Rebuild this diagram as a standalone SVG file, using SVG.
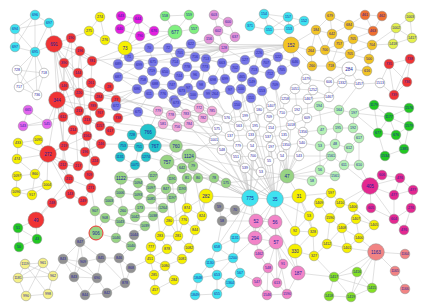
<svg xmlns="http://www.w3.org/2000/svg" width="423" height="308" viewBox="0 0 423 308">
<style>
.e path{stroke:#c2c2c2;stroke-width:.5;fill:none}
circle{stroke:#8c8c8c;stroke-width:.5}
text{font-family:"Liberation Sans",Arial,sans-serif;font-size:3.6px;fill:#22229a;text-anchor:middle;dominant-baseline:central}
.big text{font-size:4.6px}
.cy{fill:#3ee2f0}.rd{fill:#f03434}.wh{fill:#fff}.yl{fill:#f6f000}.gd{fill:#f2c424}.or{fill:#f07030}.lm{fill:#e4f04c}.mg{fill:#e420e0}.vi{fill:#e466ee}.lg{fill:#80f080}.pk{fill:#e294d8}.bl{fill:#7676e8}.tl{fill:#22c4cc}.p2{fill:#f2aad8}.gm{fill:#98d484}.dg{fill:#22c822}.pg{fill:#b4f0b4}.hp{fill:#e42890}.gr{fill:#929292}.py{fill:#f4f088}.kp{fill:#f284c8}.sa{fill:#f28484}.li{fill:#84e024}
.rs{stroke:#f03434;stroke-width:1}
</style>
<rect width="423" height="308" fill="#fff"/>
<g id="connectors" class="e">
<path d="M35 15L49 23"/><path d="M35 15L15 29"/><path d="M35 15L15 47"/><path d="M35 15L35 52"/><path d="M49 23L15 29"/><path d="M49 23L35 52"/><path d="M15 29L15 47"/><path d="M15 29L35 52"/><path d="M15 47L35 52"/><path d="M49 23L54 44"/><path d="M35 52L54 44"/><path d="M35 52L17 70"/><path d="M35 52L44 73"/><path d="M35 52L19 87"/><path d="M35 52L37 95"/>
<path d="M17 70L44 73"/><path d="M17 70L19 87"/><path d="M17 70L37 95"/><path d="M44 73L19 87"/><path d="M44 73L37 95"/><path d="M19 87L37 95"/>
<path d="M54 44L71 38"/><path d="M54 44L80 51"/><path d="M54 44L64 63"/><path d="M54 44L92 61"/><path d="M54 44L78 73"/><path d="M54 44L64 86"/><path d="M54 44L57 100"/><path d="M54 44L79 93"/><path d="M54 44L87 120"/><path d="M54 44L63 117"/>
<path d="M71 38L80 51"/><path d="M71 38L64 63"/><path d="M80 51L64 63"/><path d="M80 51L92 61"/><path d="M80 51L78 73"/><path d="M64 63L78 73"/><path d="M64 63L64 86"/><path d="M92 61L78 73"/><path d="M92 61L91 83"/><path d="M78 73L64 86"/><path d="M78 73L79 93"/><path d="M78 73L91 83"/><path d="M64 86L57 100"/><path d="M64 86L79 93"/><path d="M79 93L91 83"/><path d="M79 93L99 97"/><path d="M91 83L99 97"/><path d="M57 100L79 93"/><path d="M57 100L63 117"/><path d="M57 100L79 111"/><path d="M57 100L73 130"/><path d="M57 100L64 146"/><path d="M57 100L48 154"/><path d="M63 117L79 111"/><path d="M63 117L73 130"/><path d="M79 111L93 106"/><path d="M79 111L87 120"/><path d="M93 106L100 113"/><path d="M87 120L100 126"/><path d="M73 130L87 136"/><path d="M87 136L101 144"/><path d="M64 146L85 152"/><path d="M64 146L48 154"/><path d="M85 152L95 161"/><path d="M63 165L78 166"/><path d="M78 166L89 175"/><path d="M63 165L69 179"/><path d="M69 179L91 188"/><path d="M70 194L83 201"/><path d="M70 194L52 203"/><path d="M48 154L63 165"/><path d="M48 154L69 179"/><path d="M48 154L78 166"/><path d="M48 154L70 194"/><path d="M48 154L87 136"/><path d="M64 146L73 130"/><path d="M85 152L101 144"/><path d="M95 161L89 175"/><path d="M89 175L91 188"/><path d="M91 188L83 201"/><path d="M52 203L36 220"/><path d="M69 179L36 220"/><path d="M57 100L70 194"/><path d="M64 63L63 165"/><path d="M79 93L85 152"/><path d="M80 51L87 136"/><path d="M71 38L78 166"/><path d="M64 86L95 161"/><path d="M91 83L89 175"/>
<path d="M99 97L118 77"/><path d="M92 61L129 57"/><path d="M99 97L137 89"/><path d="M109 87L118 77"/><path d="M109 87L99 97"/><path d="M116 100L109 87"/><path d="M116 100L137 89"/><path d="M118 118L116 100"/><path d="M110 131L118 118"/><path d="M110 131L100 126"/><path d="M118 118L138 112"/>
<path d="M100 17L89 31"/><path d="M89 31L105 40"/><path d="M100 17L105 40"/><path d="M105 40L125 48"/><path d="M89 31L71 38"/>
<path d="M28 110L23 126"/><path d="M23 126L47 124"/><path d="M28 110L47 124"/><path d="M47 124L57 100"/><path d="M23 126L63 117"/>
<path d="M48 154L18 143"/><path d="M48 154L38 140"/><path d="M48 154L17 159"/><path d="M48 154L35 174"/><path d="M48 154L47 185"/><path d="M18 143L17 159"/><path d="M17 159L35 174"/><path d="M35 174L17 176"/><path d="M35 174L47 185"/><path d="M17 176L16 192"/><path d="M35 174L32 195"/><path d="M47 185L32 195"/><path d="M16 192L32 195"/><path d="M18 143L38 140"/><path d="M47 185L16 192"/>
<path d="M36 220L18 228"/><path d="M36 220L37 239"/><path d="M18 228L37 239"/><path d="M37 239L19 247"/><path d="M18 228L19 247"/>
<path d="M25 264L43 263"/><path d="M25 264L18 278"/><path d="M25 264L53 276"/><path d="M25 264L48 294"/><path d="M43 263L53 276"/><path d="M43 263L18 278"/><path d="M18 278L26 296"/><path d="M53 276L48 294"/><path d="M26 296L48 294"/><path d="M43 263L26 296"/><path d="M53 276L63 259"/><path d="M18 278L53 276"/>
<path d="M80 242L63 259"/><path d="M80 242L83 262"/><path d="M80 242L101 258"/><path d="M63 259L83 262"/><path d="M63 259L74 277"/><path d="M83 262L97 278"/><path d="M83 262L74 277"/><path d="M101 258L97 278"/><path d="M74 277L85 295"/><path d="M97 278L85 295"/><path d="M97 278L107 293"/><path d="M85 295L107 293"/><path d="M101 258L119 258"/><path d="M119 258L131 268"/><path d="M131 268L125 283"/><path d="M125 283L107 293"/><path d="M119 258L125 283"/><path d="M80 242L96 233"/><path d="M101 258L83 262"/><path d="M74 277L97 278"/><path d="M80 242L74 277"/><path d="M63 259L97 278"/><path d="M101 258L125 283"/>
<path d="M96 233L95 211"/><path d="M96 233L105 218"/><path d="M95 211L105 218"/><path d="M95 211L91 188"/><path d="M96 233L116 238"/><path d="M123 211L140 208"/><path d="M123 211L120 222"/><path d="M123 211L135 217"/><path d="M140 208L135 217"/><path d="M140 208L163 208"/><path d="M135 217L153 216"/><path d="M153 216L145 226"/><path d="M120 222L145 226"/><path d="M120 222L116 238"/><path d="M145 226L134 235"/><path d="M116 238L131 246"/><path d="M134 235L131 246"/><path d="M131 246L119 258"/><path d="M105 218L120 222"/><path d="M109 201L123 211"/><path d="M120 193L123 211"/><path d="M138 195L140 208"/><path d="M163 208L151 199"/><path d="M153 216L163 208"/>
<path d="M176 146L189 156"/><path d="M176 146L167 162"/><path d="M189 156L167 162"/><path d="M189 156L182 168"/><path d="M189 156L193 166"/><path d="M167 162L182 168"/><path d="M167 162L153 176"/><path d="M167 162L172 179"/><path d="M182 168L193 166"/><path d="M182 168L187 178"/><path d="M193 166L198 178"/><path d="M187 178L198 178"/><path d="M121 178L138 183"/><path d="M121 178L120 193"/><path d="M121 178L153 176"/><path d="M138 183L151 188"/><path d="M153 176L151 188"/><path d="M151 188L166 189"/><path d="M166 189L182 189"/><path d="M172 179L166 189"/><path d="M172 179L182 189"/><path d="M182 189L172 198"/><path d="M120 193L138 195"/><path d="M138 195L151 199"/><path d="M151 199L172 198"/><path d="M138 183L138 195"/><path d="M166 189L151 199"/><path d="M109 201L120 193"/><path d="M198 178L214 178"/><path d="M214 178L226 183"/><path d="M182 168L214 178"/><path d="M187 178L214 178"/><path d="M189 156L214 140"/>
<path d="M148 132L132 135"/><path d="M148 132L155 146"/><path d="M148 132L139 147"/><path d="M132 135L123 146"/><path d="M132 135L139 147"/><path d="M123 146L139 147"/><path d="M123 146L120 157"/><path d="M139 147L146 157"/><path d="M155 146L146 157"/><path d="M120 157L135 165"/><path d="M146 157L135 165"/><path d="M139 147L135 165"/><path d="M155 146L176 146"/><path d="M146 157L167 162"/><path d="M135 165L121 178"/><path d="M148 132L163 124"/><path d="M148 132L138 112"/>
<path d="M158 111L171 115"/><path d="M171 115L186 114"/><path d="M186 114L199 108"/><path d="M199 108L203 118"/><path d="M186 114L203 118"/><path d="M158 111L163 124"/><path d="M163 124L177 127"/><path d="M177 127L189 124"/><path d="M171 115L177 127"/><path d="M189 124L203 118"/><path d="M186 114L189 124"/><path d="M171 115L163 124"/><path d="M203 118L212 111"/><path d="M158 111L148 132"/>
<path d="M129 57L149 48"/><path d="M129 57L139 65"/><path d="M129 57L118 64"/><path d="M129 57L153 62"/><path d="M149 48L168 48"/><path d="M149 48L153 62"/><path d="M168 48L180 53"/><path d="M168 48L175 62"/><path d="M180 53L191 44"/><path d="M180 53L175 62"/><path d="M180 53L195 57"/><path d="M191 44L195 57"/><path d="M175 62L153 62"/><path d="M175 62L165 72"/><path d="M175 62L187 67"/><path d="M153 62L139 65"/><path d="M153 62L152 71"/><path d="M139 65L118 64"/><path d="M139 65L152 71"/><path d="M139 65L118 77"/><path d="M118 64L118 77"/><path d="M152 71L165 72"/><path d="M152 71L143 80"/><path d="M165 72L179 76"/><path d="M165 72L155 84"/><path d="M187 67L195 57"/><path d="M187 67L179 76"/><path d="M187 67L205 67"/><path d="M187 67L195 75"/><path d="M195 57L206 59"/><path d="M206 59L205 67"/><path d="M179 76L195 75"/><path d="M179 76L172 85"/><path d="M205 67L195 75"/><path d="M205 67L201 85"/><path d="M195 75L188 88"/><path d="M195 75L201 85"/><path d="M118 77L143 80"/><path d="M118 77L137 89"/><path d="M143 80L155 84"/><path d="M143 80L137 89"/><path d="M155 84L172 85"/><path d="M155 84L149 94"/><path d="M155 84L163 94"/><path d="M172 85L188 88"/><path d="M172 85L163 94"/><path d="M172 85L182 91"/><path d="M188 88L201 85"/><path d="M188 88L182 91"/><path d="M188 88L193 95"/><path d="M201 85L208 94"/><path d="M137 89L149 94"/><path d="M137 89L116 106"/><path d="M149 94L163 94"/><path d="M149 94L138 112"/><path d="M163 94L174 100"/><path d="M182 91L193 95"/><path d="M182 91L174 100"/><path d="M193 95L208 94"/><path d="M193 95L176 103"/><path d="M174 100L176 103"/><path d="M116 106L138 112"/><path d="M149 94L116 106"/>
<path d="M129 57L125 48"/><path d="M125 48L149 48"/><path d="M125 48L118 64"/><path d="M125 48L140 36"/><path d="M125 48L92 61"/><path d="M125 48L138 19"/><path d="M125 48L175 32"/>
<path d="M259 53L245 60"/><path d="M259 53L278 57"/><path d="M259 53L266 63"/><path d="M259 53L254 70"/><path d="M245 60L222 63"/><path d="M245 60L235 68"/><path d="M245 60L254 70"/><path d="M278 57L295 62"/><path d="M278 57L266 63"/><path d="M278 57L282 70"/><path d="M295 62L282 70"/><path d="M222 63L235 68"/><path d="M222 63L225 79"/><path d="M222 63L213 80"/><path d="M235 68L242 77"/><path d="M235 68L225 79"/><path d="M266 63L254 70"/><path d="M266 63L270 74"/><path d="M254 70L242 77"/><path d="M254 70L270 74"/><path d="M254 70L252 82"/><path d="M242 77L241 89"/><path d="M242 77L252 82"/><path d="M225 79L213 80"/><path d="M225 79L230 90"/><path d="M270 74L282 70"/><path d="M270 74L275 85"/><path d="M282 70L275 85"/><path d="M213 80L215 94"/><path d="M230 90L241 89"/><path d="M230 90L215 94"/><path d="M230 90L237 105"/><path d="M241 89L252 82"/><path d="M241 89L251 98"/><path d="M252 82L262 91"/><path d="M262 91L275 85"/><path d="M262 91L251 98"/><path d="M251 98L237 105"/><path d="M242 77L230 90"/>
<path d="M206 59L222 63"/><path d="M205 67L213 80"/><path d="M201 85L213 80"/><path d="M208 94L215 94"/><path d="M195 57L222 63"/><path d="M191 44L209 39"/><path d="M206 59L224 48"/>
<path d="M291 45L259 53"/><path d="M291 45L278 57"/><path d="M291 45L295 62"/><path d="M291 45L224 48"/><path d="M291 45L311 51"/><path d="M291 45L316 30"/><path d="M291 45L312 66"/><path d="M291 45L191 44"/><path d="M291 45L206 59"/><path d="M291 45L245 60"/><path d="M291 45L129 57"/><path d="M291 45L168 48"/>
<path d="M224 48L218 31"/><path d="M224 48L235 37"/><path d="M224 48L209 39"/><path d="M224 48L222 63"/><path d="M224 48L245 60"/><path d="M224 48L191 44"/><path d="M224 48L195 57"/><path d="M224 48L180 53"/><path d="M224 48L149 48"/><path d="M224 48L175 62"/><path d="M224 48L153 62"/>
<path d="M214 15L228 22"/><path d="M214 15L218 31"/><path d="M228 22L218 31"/><path d="M228 22L235 37"/><path d="M218 31L235 37"/><path d="M218 31L209 39"/><path d="M209 39L224 48"/>
<path d="M264 14L288 17"/><path d="M264 14L250 26"/><path d="M264 14L269 30"/><path d="M288 17L289 29"/><path d="M288 17L304 21"/><path d="M250 26L269 30"/><path d="M269 30L289 29"/><path d="M289 29L304 21"/><path d="M264 14L289 29"/><path d="M288 17L269 30"/><path d="M269 30L291 45"/>
<path d="M121 16L138 19"/><path d="M138 19L120 29"/><path d="M121 16L120 29"/><path d="M138 19L140 36"/><path d="M138 19L154 31"/><path d="M120 29L140 36"/><path d="M140 36L154 31"/><path d="M154 31L175 32"/>
<path d="M165 16L189 15"/><path d="M165 16L175 32"/><path d="M189 15L194 29"/><path d="M189 15L175 32"/><path d="M194 29L175 32"/><path d="M175 32L149 48"/><path d="M175 32L168 48"/>
<path d="M316 30L330 16"/><path d="M316 30L332 34"/><path d="M316 30L325 50"/><path d="M330 16L349 25"/><path d="M330 16L332 34"/><path d="M349 25L332 34"/><path d="M349 25L353 39"/><path d="M349 25L365 15"/><path d="M332 34L339 44"/><path d="M332 34L325 50"/><path d="M339 44L353 39"/><path d="M339 44L325 50"/><path d="M339 44L350 54"/><path d="M353 39L350 54"/><path d="M353 39L372 45"/><path d="M325 50L331 66"/><path d="M325 50L350 54"/><path d="M350 54L331 66"/><path d="M350 54L372 45"/><path d="M372 45L369 59"/><path d="M350 54L369 59"/><path d="M311 51L325 50"/><path d="M311 51L312 66"/><path d="M312 66L331 66"/><path d="M316 30L311 51"/><path d="M372 45L393 44"/><path d="M372 45L396 28"/><path d="M369 59L367 71"/><path d="M367 71L349 69"/><path d="M331 66L349 69"/><path d="M339 44L331 66"/>
<path d="M365 15L382 16"/><path d="M365 15L373 31"/><path d="M382 16L373 31"/><path d="M373 31L349 25"/><path d="M373 31L353 39"/>
<path d="M410 17L396 28"/><path d="M396 28L412 38"/><path d="M396 28L393 44"/><path d="M412 38L393 44"/><path d="M410 17L412 38"/>
<path d="M349 69L342 83"/><path d="M349 69L359 84"/><path d="M349 69L329 82"/><path d="M329 82L342 83"/><path d="M342 83L359 84"/><path d="M359 84L380 83"/><path d="M329 82L329 97"/><path d="M342 83L329 97"/><path d="M306 79L329 82"/><path d="M306 79L313 90"/><path d="M306 79L295 89"/><path d="M295 89L313 90"/><path d="M313 90L308 99"/><path d="M295 89L285 99"/><path d="M285 99L308 99"/><path d="M313 90L329 97"/><path d="M329 97L308 99"/><path d="M380 83L389 64"/><path d="M380 83L394 95"/><path d="M306 79L295 62"/><path d="M285 99L282 113"/><path d="M295 89L297 110"/><path d="M308 99L307 118"/><path d="M359 84L339 110"/>
<path d="M389 64L410 59"/><path d="M389 64L407 82"/><path d="M389 64L394 95"/><path d="M410 59L407 82"/><path d="M407 82L394 95"/><path d="M410 59L394 95"/>
<path d="M259 110L271 106"/><path d="M259 110L245 116"/><path d="M259 110L269 117"/><path d="M259 110L255 126"/><path d="M271 106L282 113"/><path d="M271 106L269 117"/><path d="M297 110L282 113"/><path d="M297 110L307 118"/><path d="M297 110L291 125"/><path d="M227 118L245 116"/><path d="M227 118L217 129"/><path d="M227 118L239 126"/><path d="M245 116L239 126"/><path d="M245 116L255 126"/><path d="M269 117L282 113"/><path d="M269 117L271 128"/><path d="M282 113L291 125"/><path d="M307 118L303 132"/><path d="M307 118L291 125"/><path d="M217 129L230 136"/><path d="M217 129L214 140"/><path d="M239 126L255 126"/><path d="M239 126L230 136"/><path d="M239 126L251 135"/><path d="M255 126L271 128"/><path d="M255 126L251 135"/><path d="M271 128L268 137"/><path d="M271 128L291 125"/><path d="M291 125L284 135"/><path d="M291 125L303 132"/><path d="M303 132L302 143"/><path d="M230 136L251 135"/><path d="M230 136L238 146"/><path d="M251 135L268 137"/><path d="M251 135L252 146"/><path d="M268 137L284 135"/><path d="M268 137L271 147"/><path d="M284 135L286 145"/><path d="M214 140L222 150"/><path d="M238 146L252 146"/><path d="M238 146L236 157"/><path d="M252 146L271 147"/><path d="M252 146L253 156"/><path d="M271 147L286 145"/><path d="M271 147L269 161"/><path d="M286 145L302 143"/><path d="M286 145L282 156"/><path d="M302 143L299 156"/><path d="M222 150L236 157"/><path d="M236 157L253 156"/><path d="M236 157L245 168"/><path d="M253 156L269 161"/><path d="M253 156L261 172"/><path d="M269 161L282 156"/><path d="M282 156L299 156"/><path d="M245 168L261 172"/><path d="M255 126L252 146"/><path d="M251 135L253 156"/><path d="M271 128L271 147"/><path d="M268 137L269 161"/>
<path d="M238 146L250 198"/><path d="M252 146L250 198"/><path d="M236 157L250 198"/><path d="M245 168L250 198"/><path d="M261 172L250 198"/><path d="M253 156L275 199"/><path d="M269 161L275 199"/><path d="M282 156L275 199"/><path d="M271 147L275 199"/><path d="M261 172L275 199"/><path d="M251 135L275 199"/><path d="M269 117L275 199"/><path d="M255 126L250 198"/><path d="M259 110L250 198"/><path d="M227 118L250 198"/><path d="M299 156L287 176"/><path d="M302 143L287 176"/><path d="M282 156L287 176"/><path d="M286 145L287 176"/><path d="M303 132L287 176"/><path d="M291 125L287 176"/><path d="M268 137L287 176"/><path d="M230 136L275 199"/><path d="M222 150L250 198"/><path d="M214 140L275 199"/>
<path d="M250 198L256 221"/><path d="M250 198L255 238"/><path d="M250 198L235 238"/><path d="M250 198L217 247"/><path d="M275 199L275 222"/><path d="M275 199L276 242"/><path d="M275 199L256 221"/><path d="M275 199L299 196"/><path d="M287 176L299 196"/><path d="M287 176L275 199"/><path d="M250 198L275 199"/><path d="M287 176L312 181"/><path d="M287 176L320 170"/><path d="M287 176L331 156"/><path d="M275 199L255 238"/><path d="M250 198L206 196"/><path d="M275 199L295 231"/><path d="M275 199L309 216"/><path d="M299 196L309 216"/><path d="M299 196L295 231"/><path d="M299 196L313 232"/><path d="M287 176L250 198"/>
<path d="M250 198L189 156"/><path d="M250 198L167 162"/><path d="M275 199L176 146"/><path d="M275 199L226 183"/><path d="M287 176L226 183"/><path d="M250 198L214 178"/><path d="M275 199L148 132"/><path d="M250 198L155 146"/><path d="M275 199L174 100"/><path d="M250 198L163 94"/><path d="M275 199L237 105"/><path d="M287 176L262 91"/><path d="M250 198L230 90"/><path d="M275 199L251 98"/><path d="M250 198L193 95"/><path d="M287 176L275 85"/><path d="M275 199L241 89"/><path d="M250 198L182 168"/><path d="M287 176L189 156"/>
<path d="M57 100L217 129"/><path d="M80 51L227 118"/><path d="M91 83L214 140"/><path d="M101 144L238 146"/><path d="M87 120L230 136"/><path d="M100 126L222 150"/><path d="M64 86L239 126"/><path d="M99 97L227 118"/>
<path d="M174 100L227 118"/><path d="M193 95L217 129"/><path d="M208 94L239 126"/><path d="M237 105L245 116"/><path d="M237 105L227 118"/><path d="M251 98L259 110"/><path d="M262 91L271 106"/><path d="M275 85L282 113"/><path d="M241 89L245 116"/><path d="M215 94L227 118"/><path d="M201 85L217 129"/><path d="M176 103L214 140"/><path d="M182 91L239 126"/>
<path d="M319 106L339 110"/><path d="M339 110L354 113"/><path d="M319 106L322 130"/><path d="M339 110L338 128"/><path d="M322 130L338 128"/><path d="M338 128L353 128"/><path d="M354 113L353 128"/><path d="M353 128L359 138"/><path d="M322 130L320 146"/><path d="M338 128L335 144"/><path d="M320 146L335 144"/><path d="M335 144L349 148"/><path d="M359 138L349 148"/><path d="M335 144L331 156"/><path d="M349 148L344 165"/><path d="M331 156L344 165"/><path d="M344 165L359 165"/><path d="M359 138L359 165"/><path d="M331 156L320 170"/><path d="M320 170L335 176"/><path d="M335 176L344 165"/><path d="M320 146L320 170"/><path d="M320 170L312 181"/><path d="M354 113L374 105"/><path d="M354 113L378 133"/><path d="M354 113L389 117"/><path d="M339 110L307 118"/><path d="M322 130L303 132"/><path d="M320 146L302 143"/><path d="M331 156L299 156"/><path d="M335 176L287 176"/><path d="M319 106L297 110"/>
<path d="M374 105L409 108"/><path d="M374 105L389 117"/><path d="M374 105L378 133"/><path d="M409 108L389 117"/><path d="M409 108L409 126"/><path d="M389 117L409 126"/><path d="M389 117L378 133"/><path d="M389 117L396 135"/><path d="M409 126L396 135"/><path d="M378 133L396 135"/><path d="M378 133L385 156"/><path d="M396 135L404 149"/><path d="M404 149L385 156"/><path d="M409 126L404 149"/>
<path d="M370 186L382 175"/><path d="M370 186L400 178"/><path d="M370 186L394 195"/><path d="M370 186L371 208"/><path d="M370 186L394 219"/><path d="M382 175L400 178"/><path d="M400 178L394 195"/><path d="M400 178L413 190"/><path d="M394 195L413 190"/><path d="M394 195L394 219"/><path d="M371 208L394 219"/><path d="M411 208L394 219"/><path d="M411 208L404 230"/><path d="M394 219L404 230"/><path d="M413 190L411 208"/><path d="M370 186L359 165"/><path d="M370 186L344 165"/><path d="M370 186L340 203"/><path d="M370 186L353 207"/>
<path d="M331 193L319 203"/><path d="M331 193L340 203"/><path d="M319 203L330 218"/><path d="M340 203L353 207"/><path d="M340 203L330 218"/><path d="M353 207L356 219"/><path d="M330 218L342 228"/><path d="M356 219L374 225"/><path d="M356 219L342 228"/><path d="M356 219L359 238"/><path d="M342 228L359 238"/><path d="M342 228L327 244"/><path d="M342 228L347 248"/><path d="M359 238L347 248"/><path d="M327 244L347 248"/><path d="M330 218L327 244"/><path d="M353 207L374 225"/><path d="M374 225L359 238"/><path d="M309 216L295 231"/><path d="M309 216L313 232"/><path d="M295 231L313 232"/><path d="M295 231L295 251"/><path d="M313 232L295 251"/><path d="M295 251L314 256"/><path d="M313 232L314 256"/><path d="M309 216L319 203"/><path d="M327 244L314 256"/><path d="M295 251L298 273"/><path d="M314 256L334 277"/><path d="M331 193L299 196"/>
<path d="M376 252L405 254"/><path d="M376 252L395 271"/><path d="M395 271L405 289"/><path d="M376 252L372 288"/><path d="M376 252L357 272"/><path d="M376 252L334 277"/><path d="M376 252L351 297"/><path d="M376 252L359 238"/><path d="M376 252L347 248"/>
<path d="M334 277L357 272"/><path d="M334 277L329 296"/><path d="M334 277L351 297"/><path d="M357 272L372 288"/><path d="M357 272L351 297"/><path d="M372 288L351 297"/><path d="M329 296L351 297"/><path d="M334 277L372 288"/><path d="M334 277L298 273"/>
<path d="M256 221L275 222"/><path d="M256 221L255 238"/><path d="M256 221L276 242"/><path d="M275 222L255 238"/><path d="M275 222L276 242"/><path d="M255 238L276 242"/><path d="M255 238L259 254"/><path d="M276 242L259 254"/><path d="M276 242L268 268"/><path d="M276 242L283 264"/><path d="M276 242L277 283"/><path d="M276 242L287 294"/><path d="M259 254L268 268"/><path d="M268 268L257 282"/><path d="M268 268L277 283"/><path d="M268 268L267 295"/><path d="M283 264L277 283"/><path d="M257 282L267 295"/><path d="M277 283L287 294"/><path d="M267 295L287 294"/><path d="M276 242L298 273"/><path d="M298 273L287 294"/><path d="M275 222L298 273"/><path d="M255 238L235 238"/><path d="M256 221L235 238"/><path d="M255 238L233 258"/><path d="M275 222L235 210"/><path d="M256 221L222 221"/>
<path d="M210 263L198 278"/><path d="M198 278L195 295"/><path d="M210 263L217 247"/><path d="M210 263L233 258"/><path d="M210 263L217 275"/><path d="M235 238L217 247"/><path d="M235 238L233 258"/><path d="M217 247L233 258"/><path d="M233 258L240 273"/><path d="M233 258L217 275"/><path d="M240 273L230 283"/><path d="M217 275L230 283"/><path d="M217 275L217 294"/><path d="M230 283L217 294"/><path d="M198 278L217 275"/><path d="M195 295L217 294"/><path d="M240 273L217 294"/><path d="M240 273L257 282"/>
<path d="M219 207L235 210"/><path d="M219 207L222 221"/><path d="M235 210L222 221"/><path d="M235 210L250 198"/><path d="M222 221L217 247"/><path d="M219 207L206 196"/>
<path d="M187 208L202 216"/><path d="M187 208L184 220"/><path d="M187 208L169 221"/><path d="M169 221L184 220"/><path d="M184 220L195 230"/><path d="M202 216L195 230"/><path d="M169 221L160 236"/><path d="M169 221L178 236"/><path d="M184 220L178 236"/><path d="M160 236L178 236"/><path d="M160 236L151 247"/><path d="M178 236L189 248"/><path d="M178 236L167 249"/><path d="M160 236L167 249"/><path d="M151 247L150 259"/><path d="M167 249L150 259"/><path d="M167 249L182 259"/><path d="M189 248L182 259"/><path d="M150 259L165 266"/><path d="M182 259L165 266"/><path d="M150 259L154 275"/><path d="M165 266L154 275"/><path d="M165 266L174 280"/><path d="M154 275L155 290"/><path d="M174 280L155 290"/><path d="M195 230L189 248"/><path d="M187 208L206 196"/><path d="M202 216L206 196"/><path d="M206 196L214 178"/><path d="M160 236L153 176"/><path d="M178 236L172 179"/><path d="M187 208L182 189"/><path d="M202 216L193 166"/><path d="M150 259L131 268"/><path d="M169 221L166 189"/><path d="M184 220L187 178"/><path d="M195 230L206 196"/>
</g>
<g id="nodes">
<g id="n1"><circle class="cy" cx="35" cy="15" r="4.8"/><text x="35" y="15">696</text></g>
<g id="n2"><circle class="cy" cx="49" cy="23" r="4.8"/><text x="49" y="23">697</text></g>
<g id="n3"><circle class="cy" cx="15" cy="29" r="4.8"/><text x="15" y="29">694</text></g>
<g id="n4"><circle class="cy" cx="15" cy="47" r="4.8"/><text x="15" y="47">697</text></g>
<g id="n5"><circle class="cy" cx="35" cy="52" r="4.8"/><text x="35" y="52">695</text></g>
<g id="n6"><circle class="wh" cx="17" cy="70" r="4.8"/><text x="17" y="70">728</text></g>
<g id="n7"><circle class="wh" cx="44" cy="73" r="4.8"/><text x="44" y="73">718</text></g>
<g id="n8"><circle class="wh" cx="19" cy="87" r="4.8"/><text x="19" y="87">717</text></g>
<g id="n9"><circle class="wh" cx="37" cy="95" r="4.8"/><text x="37" y="95">736</text></g>
<g id="n10" class="big"><circle class="rd" cx="54" cy="44" r="8.3"/><text x="54" y="44">691</text></g>
<g id="n11"><circle class="rd" cx="71" cy="38" r="4.8"/><text x="71" y="38">190</text></g>
<g id="n12"><circle class="rd" cx="80" cy="51" r="4.8"/><text x="80" y="51">196</text></g>
<g id="n13"><circle class="rd" cx="64" cy="63" r="4.8"/><text x="64" y="63">390</text></g>
<g id="n14"><circle class="rd" cx="92" cy="61" r="4.8"/><text x="92" y="61">781</text></g>
<g id="n15"><circle class="rd" cx="78" cy="73" r="4.8"/><text x="78" y="73">144</text></g>
<g id="n16"><circle class="rd" cx="64" cy="86" r="4.8"/><text x="64" y="86">146</text></g>
<g id="n17"><circle class="rd" cx="79" cy="93" r="4.8"/><text x="79" y="93">220</text></g>
<g id="n18"><circle class="rd" cx="91" cy="83" r="4.8"/><text x="91" y="83">261</text></g>
<g id="n19" class="big"><circle class="rd" cx="57" cy="100" r="8.3"/><text x="57" y="100">344</text></g>
<g id="n20"><circle class="rd" cx="99" cy="97" r="4.8"/><text x="99" y="97">284</text></g>
<g id="n21"><circle class="rd" cx="63" cy="117" r="4.8"/><text x="63" y="117">612</text></g>
<g id="n22"><circle class="rd" cx="79" cy="111" r="4.8"/><text x="79" y="111">213</text></g>
<g id="n23"><circle class="rd" cx="93" cy="106" r="4.8"/><text x="93" y="106">789</text></g>
<g id="n24"><circle class="rd" cx="100" cy="113" r="4.8"/><text x="100" y="113">767</text></g>
<g id="n25"><circle class="rd" cx="87" cy="120" r="4.8"/><text x="87" y="120">213</text></g>
<g id="n26"><circle class="rd" cx="73" cy="130" r="4.8"/><text x="73" y="130">214</text></g>
<g id="n27"><circle class="rd" cx="100" cy="126" r="4.8"/><text x="100" y="126">1157</text></g>
<g id="n28"><circle class="rd" cx="87" cy="136" r="4.8"/><text x="87" y="136">1562</text></g>
<g id="n29"><circle class="rd" cx="101" cy="144" r="4.8"/><text x="101" y="144">246</text></g>
<g id="n30"><circle class="rd" cx="64" cy="146" r="4.8"/><text x="64" y="146">219</text></g>
<g id="n31"><circle class="rd" cx="85" cy="152" r="4.8"/><text x="85" y="152">196</text></g>
<g id="n32"><circle class="rd" cx="95" cy="161" r="4.8"/><text x="95" y="161">224</text></g>
<g id="n33"><circle class="rd" cx="63" cy="165" r="4.8"/><text x="63" y="165">212</text></g>
<g id="n34"><circle class="rd" cx="78" cy="166" r="4.8"/><text x="78" y="166">217</text></g>
<g id="n35"><circle class="rd" cx="89" cy="175" r="4.8"/><text x="89" y="175">709</text></g>
<g id="n36"><circle class="rd" cx="69" cy="179" r="4.8"/><text x="69" y="179">215</text></g>
<g id="n37"><circle class="rd" cx="91" cy="188" r="4.8"/><text x="91" y="188">271</text></g>
<g id="n38"><circle class="rd" cx="70" cy="194" r="4.8"/><text x="70" y="194">143</text></g>
<g id="n39"><circle class="rd" cx="83" cy="201" r="4.8"/><text x="83" y="201">249</text></g>
<g id="n40"><circle class="rd" cx="52" cy="203" r="4.8"/><text x="52" y="203">248</text></g>
<g id="n41" class="big"><circle class="rd" cx="48" cy="154" r="8.3"/><text x="48" y="154">272</text></g>
<g id="n42" class="big"><circle class="rd" cx="36" cy="220" r="8"/><text x="36" y="220">49</text></g>
<g id="n43"><circle class="rd" cx="109" cy="87" r="4.8"/><text x="109" y="87">28</text></g>
<g id="n44"><circle class="rd" cx="116" cy="100" r="4.8"/><text x="116" y="100">27</text></g>
<g id="n45"><circle class="rd" cx="118" cy="118" r="4.8"/><text x="118" y="118">738</text></g>
<g id="n46"><circle class="rd" cx="110" cy="131" r="4.8"/><text x="110" y="131">617</text></g>
<g id="n47"><circle class="yl" cx="100" cy="17" r="4.8"/><text x="100" y="17">274</text></g>
<g id="n48"><circle class="yl" cx="89" cy="31" r="4.8"/><text x="89" y="31">275</text></g>
<g id="n49"><circle class="yl" cx="105" cy="40" r="4.8"/><text x="105" y="40">276</text></g>
<g id="n50"><circle class="vi" cx="28" cy="110" r="4.8"/><text x="28" y="110">665</text></g>
<g id="n51"><circle class="vi" cx="23" cy="126" r="4.8"/><text x="23" y="126">543</text></g>
<g id="n52"><circle class="vi" cx="47" cy="124" r="4.8"/><text x="47" y="124">545</text></g>
<g id="n53"><circle class="yl" cx="18" cy="143" r="4.8"/><text x="18" y="143">433</text></g>
<g id="n54"><circle class="yl" cx="38" cy="140" r="4.8"/><text x="38" y="140">1095</text></g>
<g id="n55"><circle class="yl" cx="17" cy="159" r="4.8"/><text x="17" y="159">474</text></g>
<g id="n56"><circle class="yl" cx="35" cy="174" r="4.8"/><text x="35" y="174">860</text></g>
<g id="n57"><circle class="yl" cx="17" cy="176" r="4.8"/><text x="17" y="176">1097</text></g>
<g id="n58"><circle class="yl" cx="47" cy="185" r="4.8"/><text x="47" y="185">1004</text></g>
<g id="n59"><circle class="yl" cx="16" cy="192" r="4.8"/><text x="16" y="192">1096</text></g>
<g id="n60"><circle class="yl" cx="32" cy="195" r="4.8"/><text x="32" y="195">917</text></g>
<g id="n61"><circle class="dg" cx="18" cy="228" r="4.8"/><text x="18" y="228">51</text></g>
<g id="n62"><circle class="dg" cx="37" cy="239" r="4.8"/><text x="37" y="239">43</text></g>
<g id="n63"><circle class="dg" cx="19" cy="247" r="4.8"/><text x="19" y="247">50</text></g>
<g id="n64"><circle class="py" cx="25" cy="264" r="4.8"/><text x="25" y="264">1119</text></g>
<g id="n65"><circle class="py" cx="43" cy="263" r="4.8"/><text x="43" y="263">961</text></g>
<g id="n66"><circle class="py" cx="18" cy="278" r="4.8"/><text x="18" y="278">1181</text></g>
<g id="n67"><circle class="py" cx="53" cy="276" r="4.8"/><text x="53" y="276">962</text></g>
<g id="n68"><circle class="py" cx="26" cy="296" r="4.8"/><text x="26" y="296">990</text></g>
<g id="n69"><circle class="py" cx="48" cy="294" r="4.8"/><text x="48" y="294">998</text></g>
<g id="n70"><circle class="gr" cx="80" cy="242" r="4.8"/><text x="80" y="242">847</text></g>
<g id="n71"><circle class="gr" cx="63" cy="259" r="4.8"/><text x="63" y="259">843</text></g>
<g id="n72"><circle class="gr" cx="83" cy="262" r="4.8"/><text x="83" y="262">909</text></g>
<g id="n73"><circle class="gr" cx="101" cy="258" r="4.8"/><text x="101" y="258">845</text></g>
<g id="n74"><circle class="gr" cx="74" cy="277" r="4.8"/><text x="74" y="277">843</text></g>
<g id="n75"><circle class="gr" cx="97" cy="278" r="4.8"/><text x="97" y="278">690</text></g>
<g id="n76"><circle class="gr" cx="85" cy="295" r="4.8"/><text x="85" y="295">844</text></g>
<g id="n77"><circle class="gr" cx="107" cy="293" r="4.8"/><text x="107" y="293">842</text></g>
<g id="n78"><circle class="gr" cx="119" cy="258" r="4.8"/><text x="119" y="258">846</text></g>
<g id="n79"><circle class="gr" cx="131" cy="268" r="4.8"/><text x="131" y="268">868</text></g>
<g id="n80"><circle class="gr" cx="125" cy="283" r="4.8"/><text x="125" y="283">878</text></g>
<g id="n81"><circle class="gr" cx="134" cy="235" r="4.8"/><text x="134" y="235">1044</text></g>
<g id="n82"><circle class="gr" cx="219" cy="207" r="4.8"/><text x="219" y="207">59</text></g>
<g id="n83"><circle class="gr" cx="235" cy="210" r="4.8"/><text x="235" y="210">70</text></g>
<g id="n84"><circle class="gr" cx="222" cy="221" r="4.8"/><text x="222" y="221">58</text></g>
<g id="n85"><circle class="gm" cx="95" cy="211" r="4.8"/><text x="95" y="211">907</text></g>
<g id="n86"><circle class="gm" cx="105" cy="218" r="4.8"/><text x="105" y="218">908</text></g>
<g id="n87" class="big"><circle class="gm rs" cx="96" cy="233" r="7"/><text x="96" y="233">906</text></g>
<g id="n88"><circle class="gm" cx="123" cy="211" r="4.8"/><text x="123" y="211">260</text></g>
<g id="n89"><circle class="gm" cx="140" cy="208" r="4.8"/><text x="140" y="208">173</text></g>
<g id="n90"><circle class="gm" cx="163" cy="208" r="4.8"/><text x="163" y="208">1264</text></g>
<g id="n91"><circle class="gm" cx="120" cy="222" r="4.8"/><text x="120" y="222">1043</text></g>
<g id="n92"><circle class="gm" cx="135" cy="217" r="4.8"/><text x="135" y="217">1042</text></g>
<g id="n93"><circle class="gm" cx="153" cy="216" r="4.8"/><text x="153" y="216">1038</text></g>
<g id="n94"><circle class="gm" cx="145" cy="226" r="4.8"/><text x="145" y="226">1039</text></g>
<g id="n95"><circle class="gm" cx="116" cy="238" r="4.8"/><text x="116" y="238">1046</text></g>
<g id="n96"><circle class="gm" cx="131" cy="246" r="4.8"/><text x="131" y="246">1040</text></g>
<g id="n97" class="big"><circle class="gm" cx="176" cy="146" r="6.3"/><text x="176" y="146">760</text></g>
<g id="n98" class="big"><circle class="gm" cx="189" cy="156" r="7"/><text x="189" y="156">1124</text></g>
<g id="n99" class="big"><circle class="gm" cx="167" cy="162" r="7"/><text x="167" y="162">757</text></g>
<g id="n100"><circle class="gm" cx="182" cy="168" r="4.8"/><text x="182" y="168">642</text></g>
<g id="n101"><circle class="gm" cx="193" cy="166" r="4.8"/><text x="193" y="166">79</text></g>
<g id="n102" class="big"><circle class="gm" cx="121" cy="178" r="6.3"/><text x="121" y="178">1122</text></g>
<g id="n103"><circle class="gm" cx="153" cy="176" r="4.8"/><text x="153" y="176">1127</text></g>
<g id="n104"><circle class="gm" cx="172" cy="179" r="4.8"/><text x="172" y="179">1191</text></g>
<g id="n105"><circle class="gm" cx="187" cy="178" r="4.8"/><text x="187" y="178">81</text></g>
<g id="n106"><circle class="gm" cx="198" cy="178" r="4.8"/><text x="198" y="178">80</text></g>
<g id="n107"><circle class="gm" cx="138" cy="183" r="4.8"/><text x="138" y="183">1094</text></g>
<g id="n108"><circle class="gm" cx="151" cy="188" r="4.8"/><text x="151" y="188">1097</text></g>
<g id="n109"><circle class="gm" cx="166" cy="189" r="4.8"/><text x="166" y="189">847</text></g>
<g id="n110"><circle class="gm" cx="182" cy="189" r="4.8"/><text x="182" y="189">1193</text></g>
<g id="n111"><circle class="gm" cx="120" cy="193" r="4.8"/><text x="120" y="193">1006</text></g>
<g id="n112"><circle class="gm" cx="138" cy="195" r="4.8"/><text x="138" y="195">1093</text></g>
<g id="n113"><circle class="gm" cx="151" cy="199" r="4.8"/><text x="151" y="199">1085</text></g>
<g id="n114"><circle class="gm" cx="172" cy="198" r="4.8"/><text x="172" y="198">1197</text></g>
<g id="n115"><circle class="gm" cx="109" cy="201" r="4.8"/><text x="109" y="201">1003</text></g>
<g id="n116"><circle class="gm" cx="214" cy="178" r="4.8"/><text x="214" y="178">78</text></g>
<g id="n117"><circle class="gm" cx="226" cy="183" r="4.8"/><text x="226" y="183">175</text></g>
<g id="n118" class="big"><circle class="gm" cx="287" cy="176" r="7"/><text x="287" y="176">47</text></g>
<g id="n119" class="big"><circle class="tl" cx="148" cy="132" r="8"/><text x="148" y="132">766</text></g>
<g id="n120"><circle class="tl" cx="132" cy="135" r="4.8"/><text x="132" y="135">728</text></g>
<g id="n121"><circle class="tl" cx="123" cy="146" r="4.8"/><text x="123" y="146">753</text></g>
<g id="n122"><circle class="tl" cx="139" cy="147" r="4.8"/><text x="139" y="147">751</text></g>
<g id="n123" class="big"><circle class="tl" cx="155" cy="146" r="6.3"/><text x="155" y="146">767</text></g>
<g id="n124"><circle class="tl" cx="120" cy="157" r="4.8"/><text x="120" y="157">1131</text></g>
<g id="n125"><circle class="tl" cx="146" cy="157" r="4.8"/><text x="146" y="157">1274</text></g>
<g id="n126"><circle class="tl" cx="135" cy="165" r="4.8"/><text x="135" y="165">1071</text></g>
<g id="n127"><circle class="p2" cx="158" cy="111" r="4.8"/><text x="158" y="111">779</text></g>
<g id="n128"><circle class="p2" cx="171" cy="115" r="4.8"/><text x="171" y="115">778</text></g>
<g id="n129"><circle class="p2" cx="186" cy="114" r="4.8"/><text x="186" y="114">783</text></g>
<g id="n130"><circle class="p2" cx="199" cy="108" r="4.8"/><text x="199" y="108">772</text></g>
<g id="n131"><circle class="p2" cx="203" cy="118" r="4.8"/><text x="203" y="118">782</text></g>
<g id="n132"><circle class="p2" cx="163" cy="124" r="4.8"/><text x="163" y="124">581</text></g>
<g id="n133"><circle class="p2" cx="177" cy="127" r="4.8"/><text x="177" y="127">756</text></g>
<g id="n134"><circle class="p2" cx="189" cy="124" r="4.8"/><text x="189" y="124">784</text></g>
<g id="n135"><circle class="p2" cx="212" cy="111" r="4.8"/><text x="212" y="111">785</text></g>
<g id="n136"><circle class="bl" cx="129" cy="57" r="4.8"/><text x="129" y="57">71</text></g>
<g id="n137"><circle class="bl" cx="149" cy="48" r="4.8"/><text x="149" y="48">70</text></g>
<g id="n138"><circle class="bl" cx="168" cy="48" r="4.8"/><text x="168" y="48">72</text></g>
<g id="n139"><circle class="bl" cx="180" cy="53" r="4.8"/><text x="180" y="53">701</text></g>
<g id="n140"><circle class="bl" cx="191" cy="44" r="4.8"/><text x="191" y="44">622</text></g>
<g id="n141"><circle class="bl" cx="175" cy="62" r="4.8"/><text x="175" y="62">714</text></g>
<g id="n142"><circle class="bl" cx="153" cy="62" r="4.8"/><text x="153" y="62">675</text></g>
<g id="n143"><circle class="bl" cx="139" cy="65" r="4.8"/><text x="139" y="65">699</text></g>
<g id="n144"><circle class="bl" cx="118" cy="64" r="4.8"/><text x="118" y="64">689</text></g>
<g id="n145"><circle class="bl" cx="152" cy="71" r="4.8"/><text x="152" y="71">719</text></g>
<g id="n146"><circle class="bl" cx="165" cy="72" r="4.8"/><text x="165" y="72">650</text></g>
<g id="n147"><circle class="bl" cx="187" cy="67" r="4.8"/><text x="187" y="67">778</text></g>
<g id="n148"><circle class="bl" cx="195" cy="57" r="4.8"/><text x="195" y="57">716</text></g>
<g id="n149"><circle class="bl" cx="206" cy="59" r="4.8"/><text x="206" y="59">713</text></g>
<g id="n150"><circle class="bl" cx="179" cy="76" r="4.8"/><text x="179" y="76">744</text></g>
<g id="n151"><circle class="bl" cx="205" cy="67" r="4.8"/><text x="205" y="67">773</text></g>
<g id="n152"><circle class="bl" cx="195" cy="75" r="4.8"/><text x="195" y="75">96</text></g>
<g id="n153"><circle class="bl" cx="118" cy="77" r="4.8"/><text x="118" y="77">687</text></g>
<g id="n154"><circle class="bl" cx="143" cy="80" r="4.8"/><text x="143" y="80">758</text></g>
<g id="n155"><circle class="bl" cx="155" cy="84" r="4.8"/><text x="155" y="84">688</text></g>
<g id="n156"><circle class="bl" cx="172" cy="85" r="4.8"/><text x="172" y="85">747</text></g>
<g id="n157"><circle class="bl" cx="188" cy="88" r="4.8"/><text x="188" y="88">97</text></g>
<g id="n158"><circle class="bl" cx="201" cy="85" r="4.8"/><text x="201" y="85">98</text></g>
<g id="n159"><circle class="bl" cx="137" cy="89" r="4.8"/><text x="137" y="89">686</text></g>
<g id="n160"><circle class="bl" cx="149" cy="94" r="4.8"/><text x="149" y="94">611</text></g>
<g id="n161"><circle class="bl" cx="163" cy="94" r="4.8"/><text x="163" y="94">776</text></g>
<g id="n162"><circle class="bl" cx="182" cy="91" r="4.8"/><text x="182" y="91">673</text></g>
<g id="n163"><circle class="bl" cx="193" cy="95" r="4.8"/><text x="193" y="95">100</text></g>
<g id="n164"><circle class="bl" cx="208" cy="94" r="4.8"/><text x="208" y="94">99</text></g>
<g id="n165"><circle class="bl" cx="174" cy="100" r="4.8"/><text x="174" y="100">674</text></g>
<g id="n166"><circle class="bl" cx="116" cy="106" r="4.8"/><text x="116" y="106">672</text></g>
<g id="n167"><circle class="bl" cx="138" cy="112" r="4.8"/><text x="138" y="112">675</text></g>
<g id="n168"><circle class="bl" cx="176" cy="103" r="4.8"/><text x="176" y="103">673</text></g>
<g id="n169"><circle class="bl" cx="259" cy="53" r="4.8"/><text x="259" y="53">226</text></g>
<g id="n170"><circle class="bl" cx="245" cy="60" r="4.8"/><text x="245" y="60">127</text></g>
<g id="n171"><circle class="bl" cx="278" cy="57" r="4.8"/><text x="278" y="57">122</text></g>
<g id="n172"><circle class="bl" cx="295" cy="62" r="4.8"/><text x="295" y="62">646</text></g>
<g id="n173"><circle class="bl" cx="222" cy="63" r="4.8"/><text x="222" y="63">663</text></g>
<g id="n174"><circle class="bl" cx="235" cy="68" r="4.8"/><text x="235" y="68">702</text></g>
<g id="n175"><circle class="bl" cx="266" cy="63" r="4.8"/><text x="266" y="63">707</text></g>
<g id="n176"><circle class="bl" cx="254" cy="70" r="4.8"/><text x="254" y="70">713</text></g>
<g id="n177"><circle class="bl" cx="242" cy="77" r="4.8"/><text x="242" y="77">465</text></g>
<g id="n178"><circle class="bl" cx="225" cy="79" r="4.8"/><text x="225" y="79">699</text></g>
<g id="n179"><circle class="bl" cx="270" cy="74" r="4.8"/><text x="270" y="74">712</text></g>
<g id="n180"><circle class="bl" cx="282" cy="70" r="4.8"/><text x="282" y="70">705</text></g>
<g id="n181"><circle class="bl" cx="213" cy="80" r="4.8"/><text x="213" y="80">698</text></g>
<g id="n182"><circle class="bl" cx="230" cy="90" r="4.8"/><text x="230" y="90">97</text></g>
<g id="n183"><circle class="bl" cx="241" cy="89" r="4.8"/><text x="241" y="89">100</text></g>
<g id="n184"><circle class="bl" cx="252" cy="82" r="4.8"/><text x="252" y="82">149</text></g>
<g id="n185"><circle class="bl" cx="262" cy="91" r="4.8"/><text x="262" y="91">153</text></g>
<g id="n186"><circle class="bl" cx="275" cy="85" r="4.8"/><text x="275" y="85">709</text></g>
<g id="n187"><circle class="bl" cx="251" cy="98" r="4.8"/><text x="251" y="98">151</text></g>
<g id="n188"><circle class="bl" cx="215" cy="94" r="4.8"/><text x="215" y="94">264</text></g>
<g id="n189"><circle class="bl" cx="237" cy="105" r="4.8"/><text x="237" y="105">150</text></g>
<g id="n190"><circle class="mg" cx="121" cy="16" r="4.8"/><text x="121" y="16">643</text></g>
<g id="n191"><circle class="mg" cx="138" cy="19" r="4.8"/><text x="138" y="19">644</text></g>
<g id="n192"><circle class="mg" cx="120" cy="29" r="4.8"/><text x="120" y="29">640</text></g>
<g id="n193"><circle class="mg" cx="140" cy="36" r="4.8"/><text x="140" y="36">790</text></g>
<g id="n194"><circle class="mg" cx="154" cy="31" r="4.8"/><text x="154" y="31">676</text></g>
<g id="n195"><circle class="lg" cx="165" cy="16" r="4.8"/><text x="165" y="16">558</text></g>
<g id="n196"><circle class="lg" cx="189" cy="15" r="4.8"/><text x="189" y="15">559</text></g>
<g id="n197"><circle class="lg" cx="194" cy="29" r="4.8"/><text x="194" y="29">557</text></g>
<g id="n198" class="big"><circle class="lg" cx="175" cy="32" r="7"/><text x="175" y="32">677</text></g>
<g id="n199" class="big"><circle class="yl" cx="125" cy="48" r="7"/><text x="125" y="48">73</text></g>
<g id="n200"><circle class="pk" cx="214" cy="15" r="4.8"/><text x="214" y="15">603</text></g>
<g id="n201"><circle class="pk" cx="228" cy="22" r="4.8"/><text x="228" y="22">600</text></g>
<g id="n202"><circle class="pk" cx="218" cy="31" r="4.8"/><text x="218" y="31">602</text></g>
<g id="n203"><circle class="pk" cx="235" cy="37" r="4.8"/><text x="235" y="37">637</text></g>
<g id="n204"><circle class="pk" cx="224" cy="48" r="4.8"/><text x="224" y="48">128</text></g>
<g id="n205"><circle class="pk" cx="209" cy="39" r="4.8"/><text x="209" y="39">156</text></g>
<g id="n206"><circle class="cy" cx="264" cy="14" r="4.8"/><text x="264" y="14">154</text></g>
<g id="n207"><circle class="cy" cx="288" cy="17" r="4.8"/><text x="288" y="17">157</text></g>
<g id="n208"><circle class="cy" cx="250" cy="26" r="4.8"/><text x="250" y="26">371</text></g>
<g id="n209"><circle class="cy" cx="269" cy="30" r="4.8"/><text x="269" y="30">151</text></g>
<g id="n210"><circle class="cy" cx="289" cy="29" r="4.8"/><text x="289" y="29">153</text></g>
<g id="n211"><circle class="cy" cx="304" cy="21" r="4.8"/><text x="304" y="21">152</text></g>
<g id="n212" class="big"><circle class="gd" cx="291" cy="45" r="8"/><text x="291" y="45">152</text></g>
<g id="n213"><circle class="gd" cx="316" cy="30" r="4.8"/><text x="316" y="30">184</text></g>
<g id="n214"><circle class="gd" cx="311" cy="51" r="4.8"/><text x="311" y="51">264</text></g>
<g id="n215"><circle class="gd" cx="312" cy="66" r="4.8"/><text x="312" y="66">260</text></g>
<g id="n216"><circle class="gd" cx="330" cy="16" r="4.8"/><text x="330" y="16">679</text></g>
<g id="n217"><circle class="gd" cx="349" cy="25" r="4.8"/><text x="349" y="25">684</text></g>
<g id="n218"><circle class="gd" cx="332" cy="34" r="4.8"/><text x="332" y="34">642</text></g>
<g id="n219"><circle class="gd" cx="339" cy="44" r="4.8"/><text x="339" y="44">757</text></g>
<g id="n220"><circle class="gd" cx="353" cy="39" r="4.8"/><text x="353" y="39">705</text></g>
<g id="n221"><circle class="gd" cx="325" cy="50" r="4.8"/><text x="325" y="50">700</text></g>
<g id="n222"><circle class="gd" cx="350" cy="54" r="4.8"/><text x="350" y="54">705</text></g>
<g id="n223"><circle class="gd" cx="372" cy="45" r="4.8"/><text x="372" y="45">704</text></g>
<g id="n224"><circle class="gd" cx="369" cy="59" r="4.8"/><text x="369" y="59">500</text></g>
<g id="n225"><circle class="gd" cx="331" cy="66" r="4.8"/><text x="331" y="66">718</text></g>
<g id="n226"><circle class="gd" cx="367" cy="71" r="4.8"/><text x="367" y="71">616</text></g>
<g id="n227"><circle class="or" cx="365" cy="15" r="4.8"/><text x="365" y="15">461</text></g>
<g id="n228"><circle class="or" cx="382" cy="16" r="4.8"/><text x="382" y="16">462</text></g>
<g id="n229"><circle class="or" cx="373" cy="31" r="4.8"/><text x="373" y="31">463</text></g>
<g id="n230"><circle class="lm" cx="410" cy="17" r="4.8"/><text x="410" y="17">1003</text></g>
<g id="n231"><circle class="lm" cx="396" cy="28" r="4.8"/><text x="396" y="28">1002</text></g>
<g id="n232"><circle class="lm" cx="412" cy="38" r="4.8"/><text x="412" y="38">1417</text></g>
<g id="n233"><circle class="lm" cx="393" cy="44" r="4.8"/><text x="393" y="44">1418</text></g>
<g id="n234" class="big"><circle class="wh" cx="349" cy="69" r="7"/><text x="349" y="69">284</text></g>
<g id="n235"><circle class="wh" cx="329" cy="82" r="4.8"/><text x="329" y="82">606</text></g>
<g id="n236"><circle class="wh" cx="342" cy="83" r="4.8"/><text x="342" y="83">1332</text></g>
<g id="n237"><circle class="wh" cx="359" cy="84" r="4.8"/><text x="359" y="84">1457</text></g>
<g id="n238"><circle class="wh" cx="380" cy="83" r="4.8"/><text x="380" y="83">1513</text></g>
<g id="n239"><circle class="wh" cx="329" cy="97" r="4.8"/><text x="329" y="97">1467</text></g>
<g id="n240"><circle class="wh" cx="306" cy="79" r="4.8"/><text x="306" y="79">1479</text></g>
<g id="n241"><circle class="wh" cx="295" cy="89" r="4.8"/><text x="295" y="89">1051</text></g>
<g id="n242"><circle class="wh" cx="313" cy="90" r="4.8"/><text x="313" y="90">1252</text></g>
<g id="n243"><circle class="wh" cx="285" cy="99" r="4.8"/><text x="285" y="99">1258</text></g>
<g id="n244"><circle class="wh" cx="308" cy="99" r="4.8"/><text x="308" y="99">1467</text></g>
<g id="n245"><circle class="rd" cx="389" cy="64" r="4.8"/><text x="389" y="64">735</text></g>
<g id="n246"><circle class="rd" cx="410" cy="59" r="4.8"/><text x="410" y="59">738</text></g>
<g id="n247"><circle class="rd" cx="407" cy="82" r="4.8"/><text x="407" y="82">736</text></g>
<g id="n248"><circle class="rd" cx="394" cy="95" r="4.8"/><text x="394" y="95">739</text></g>
<g id="n249"><circle class="wh" cx="259" cy="110" r="4.8"/><text x="259" y="110">180</text></g>
<g id="n250"><circle class="wh" cx="271" cy="106" r="4.8"/><text x="271" y="106">1407</text></g>
<g id="n251"><circle class="wh" cx="297" cy="110" r="4.8"/><text x="297" y="110">192</text></g>
<g id="n252"><circle class="wh" cx="227" cy="118" r="4.8"/><text x="227" y="118">576</text></g>
<g id="n253"><circle class="wh" cx="245" cy="116" r="4.8"/><text x="245" y="116">199</text></g>
<g id="n254"><circle class="wh" cx="269" cy="117" r="4.8"/><text x="269" y="117">709</text></g>
<g id="n255"><circle class="wh" cx="282" cy="113" r="4.8"/><text x="282" y="113">710</text></g>
<g id="n256"><circle class="wh" cx="307" cy="118" r="4.8"/><text x="307" y="118">609</text></g>
<g id="n257"><circle class="wh" cx="217" cy="129" r="4.8"/><text x="217" y="129">575</text></g>
<g id="n258"><circle class="wh" cx="239" cy="126" r="4.8"/><text x="239" y="126">563</text></g>
<g id="n259"><circle class="wh" cx="255" cy="126" r="4.8"/><text x="255" y="126">195</text></g>
<g id="n260"><circle class="wh" cx="271" cy="128" r="4.8"/><text x="271" y="128">154</text></g>
<g id="n261"><circle class="wh" cx="291" cy="125" r="4.8"/><text x="291" y="125">1018</text></g>
<g id="n262"><circle class="wh" cx="303" cy="132" r="4.8"/><text x="303" y="132">1356</text></g>
<g id="n263"><circle class="wh" cx="230" cy="136" r="4.8"/><text x="230" y="136">137</text></g>
<g id="n264"><circle class="wh" cx="251" cy="135" r="4.8"/><text x="251" y="135">133</text></g>
<g id="n265"><circle class="wh" cx="268" cy="137" r="4.8"/><text x="268" y="137">537</text></g>
<g id="n266"><circle class="wh" cx="284" cy="135" r="4.8"/><text x="284" y="135">135</text></g>
<g id="n267"><circle class="wh" cx="214" cy="140" r="4.8"/><text x="214" y="140">1001</text></g>
<g id="n268"><circle class="wh" cx="238" cy="146" r="4.8"/><text x="238" y="146">779</text></g>
<g id="n269"><circle class="wh" cx="252" cy="146" r="4.8"/><text x="252" y="146">54</text></g>
<g id="n270"><circle class="wh" cx="271" cy="147" r="4.8"/><text x="271" y="147">197</text></g>
<g id="n271"><circle class="wh" cx="286" cy="145" r="4.8"/><text x="286" y="145">1350</text></g>
<g id="n272"><circle class="wh" cx="302" cy="143" r="4.8"/><text x="302" y="143">540</text></g>
<g id="n273"><circle class="wh" cx="222" cy="150" r="4.8"/><text x="222" y="150">548</text></g>
<g id="n274"><circle class="wh" cx="236" cy="157" r="4.8"/><text x="236" y="157">551</text></g>
<g id="n275"><circle class="wh" cx="253" cy="156" r="4.8"/><text x="253" y="156">700</text></g>
<g id="n276"><circle class="wh" cx="269" cy="161" r="4.8"/><text x="269" y="161">55</text></g>
<g id="n277"><circle class="wh" cx="282" cy="156" r="4.8"/><text x="282" y="156">54</text></g>
<g id="n278"><circle class="wh" cx="299" cy="156" r="4.8"/><text x="299" y="156">543</text></g>
<g id="n279"><circle class="wh" cx="245" cy="168" r="4.8"/><text x="245" y="168">539</text></g>
<g id="n280"><circle class="wh" cx="261" cy="172" r="4.8"/><text x="261" y="172">53</text></g>
<g id="n281"><circle class="pg" cx="319" cy="106" r="4.8"/><text x="319" y="106">194</text></g>
<g id="n282"><circle class="pg" cx="339" cy="110" r="4.8"/><text x="339" y="110">164</text></g>
<g id="n283"><circle class="pg" cx="354" cy="113" r="4.8"/><text x="354" y="113">197</text></g>
<g id="n284"><circle class="pg" cx="322" cy="130" r="4.8"/><text x="322" y="130">47</text></g>
<g id="n285"><circle class="pg" cx="338" cy="128" r="4.8"/><text x="338" y="128">195</text></g>
<g id="n286"><circle class="pg" cx="353" cy="128" r="4.8"/><text x="353" y="128">192</text></g>
<g id="n287"><circle class="pg" cx="359" cy="138" r="4.8"/><text x="359" y="138">617</text></g>
<g id="n288"><circle class="pg" cx="320" cy="146" r="4.8"/><text x="320" y="146">53</text></g>
<g id="n289"><circle class="pg" cx="335" cy="144" r="4.8"/><text x="335" y="144">48</text></g>
<g id="n290"><circle class="pg" cx="349" cy="148" r="4.8"/><text x="349" y="148">612</text></g>
<g id="n291"><circle class="pg" cx="331" cy="156" r="4.8"/><text x="331" y="156">1561</text></g>
<g id="n292"><circle class="pg" cx="344" cy="165" r="4.8"/><text x="344" y="165">611</text></g>
<g id="n293"><circle class="pg" cx="359" cy="165" r="4.8"/><text x="359" y="165">610</text></g>
<g id="n294"><circle class="pg" cx="320" cy="170" r="4.8"/><text x="320" y="170">56</text></g>
<g id="n295"><circle class="pg" cx="335" cy="176" r="4.8"/><text x="335" y="176">1561</text></g>
<g id="n296"><circle class="pg" cx="312" cy="181" r="4.8"/><text x="312" y="181">58</text></g>
<g id="n297"><circle class="dg" cx="374" cy="105" r="4.8"/><text x="374" y="105">1179</text></g>
<g id="n298"><circle class="dg" cx="409" cy="108" r="4.8"/><text x="409" y="108">1576</text></g>
<g id="n299"><circle class="dg" cx="389" cy="117" r="4.8"/><text x="389" y="117">1177</text></g>
<g id="n300"><circle class="dg" cx="409" cy="126" r="4.8"/><text x="409" y="126">1579</text></g>
<g id="n301"><circle class="dg" cx="378" cy="133" r="4.8"/><text x="378" y="133">677</text></g>
<g id="n302"><circle class="dg" cx="396" cy="135" r="4.8"/><text x="396" y="135">676</text></g>
<g id="n303"><circle class="dg" cx="404" cy="149" r="4.8"/><text x="404" y="149">1385</text></g>
<g id="n304"><circle class="dg" cx="385" cy="156" r="4.8"/><text x="385" y="156">1534</text></g>
<g id="n305" class="big"><circle class="hp" cx="370" cy="186" r="8.3"/><text x="370" y="186">405</text></g>
<g id="n306"><circle class="hp" cx="382" cy="175" r="4.8"/><text x="382" y="175">606</text></g>
<g id="n307"><circle class="hp" cx="400" cy="178" r="4.8"/><text x="400" y="178">476</text></g>
<g id="n308"><circle class="hp" cx="394" cy="195" r="4.8"/><text x="394" y="195">477</text></g>
<g id="n309"><circle class="hp" cx="413" cy="190" r="4.8"/><text x="413" y="190">477</text></g>
<g id="n310"><circle class="hp" cx="371" cy="208" r="4.8"/><text x="371" y="208">605</text></g>
<g id="n311"><circle class="hp" cx="411" cy="208" r="4.8"/><text x="411" y="208">276</text></g>
<g id="n312"><circle class="hp" cx="394" cy="219" r="4.8"/><text x="394" y="219">604</text></g>
<g id="n313"><circle class="hp" cx="404" cy="230" r="4.8"/><text x="404" y="230">476</text></g>
<g id="n314"><circle class="yl" cx="331" cy="193" r="4.8"/><text x="331" y="193">597</text></g>
<g id="n315"><circle class="yl" cx="319" cy="203" r="4.8"/><text x="319" y="203">1409</text></g>
<g id="n316"><circle class="yl" cx="340" cy="203" r="4.8"/><text x="340" y="203">1410</text></g>
<g id="n317"><circle class="yl" cx="353" cy="207" r="4.8"/><text x="353" y="207">1406</text></g>
<g id="n318"><circle class="yl" cx="330" cy="218" r="4.8"/><text x="330" y="218">1590</text></g>
<g id="n319"><circle class="yl" cx="356" cy="219" r="4.8"/><text x="356" y="219">1407</text></g>
<g id="n320"><circle class="yl" cx="374" cy="225" r="4.8"/><text x="374" y="225">1405</text></g>
<g id="n321"><circle class="yl" cx="342" cy="228" r="4.8"/><text x="342" y="228">1408</text></g>
<g id="n322"><circle class="yl" cx="359" cy="238" r="4.8"/><text x="359" y="238">1400</text></g>
<g id="n323"><circle class="yl" cx="327" cy="244" r="4.8"/><text x="327" y="244">1412</text></g>
<g id="n324"><circle class="yl" cx="347" cy="248" r="4.8"/><text x="347" y="248">1401</text></g>
<g id="n325"><circle class="yl" cx="309" cy="216" r="4.8"/><text x="309" y="216">53</text></g>
<g id="n326"><circle class="yl" cx="295" cy="231" r="4.8"/><text x="295" y="231">92</text></g>
<g id="n327"><circle class="yl" cx="313" cy="232" r="4.8"/><text x="313" y="232">328</text></g>
<g id="n328" class="big"><circle class="yl" cx="295" cy="251" r="7"/><text x="295" y="251">330</text></g>
<g id="n329"><circle class="yl" cx="314" cy="256" r="4.8"/><text x="314" y="256">327</text></g>
<g id="n330" class="big"><circle class="yl" cx="299" cy="196" r="7"/><text x="299" y="196">31</text></g>
<g id="n331" class="big"><circle class="yl" cx="206" cy="196" r="7"/><text x="206" y="196">282</text></g>
<g id="n332" class="big"><circle class="cy" cx="250" cy="198" r="8.3"/><text x="250" y="198">775</text></g>
<g id="n333" class="big"><circle class="cy" cx="275" cy="199" r="8.3"/><text x="275" y="199">35</text></g>
<g id="n334"><circle class="yl" cx="187" cy="208" r="4.8"/><text x="187" y="208">874</text></g>
<g id="n335"><circle class="yl" cx="202" cy="216" r="4.8"/><text x="202" y="216">824</text></g>
<g id="n336"><circle class="yl" cx="169" cy="221" r="4.8"/><text x="169" y="221">280</text></g>
<g id="n337"><circle class="yl" cx="184" cy="220" r="4.8"/><text x="184" y="220">776</text></g>
<g id="n338"><circle class="yl" cx="195" cy="230" r="4.8"/><text x="195" y="230">844</text></g>
<g id="n339"><circle class="yl" cx="160" cy="236" r="4.8"/><text x="160" y="236">283</text></g>
<g id="n340"><circle class="yl" cx="178" cy="236" r="4.8"/><text x="178" y="236">281</text></g>
<g id="n341"><circle class="yl" cx="189" cy="248" r="4.8"/><text x="189" y="248">1082</text></g>
<g id="n342"><circle class="yl" cx="151" cy="247" r="4.8"/><text x="151" y="247">777</text></g>
<g id="n343"><circle class="yl" cx="167" cy="249" r="4.8"/><text x="167" y="249">878</text></g>
<g id="n344"><circle class="yl" cx="150" cy="259" r="4.8"/><text x="150" y="259">451</text></g>
<g id="n345"><circle class="yl" cx="182" cy="259" r="4.8"/><text x="182" y="259">1081</text></g>
<g id="n346"><circle class="yl" cx="165" cy="266" r="4.8"/><text x="165" y="266">1080</text></g>
<g id="n347"><circle class="yl" cx="154" cy="275" r="4.8"/><text x="154" y="275">285</text></g>
<g id="n348"><circle class="yl" cx="174" cy="280" r="4.8"/><text x="174" y="280">284</text></g>
<g id="n349"><circle class="yl" cx="155" cy="290" r="4.8"/><text x="155" y="290">457</text></g>
<g id="n350"><circle class="cy" cx="210" cy="263" r="4.8"/><text x="210" y="263">1130</text></g>
<g id="n351"><circle class="cy" cx="198" cy="278" r="4.8"/><text x="198" y="278">1848</text></g>
<g id="n352"><circle class="cy" cx="195" cy="295" r="4.8"/><text x="195" y="295">1849</text></g>
<g id="n353"><circle class="cy" cx="235" cy="238" r="4.8"/><text x="235" y="238">1131</text></g>
<g id="n354"><circle class="cy" cx="217" cy="247" r="4.8"/><text x="217" y="247">658</text></g>
<g id="n355"><circle class="cy" cx="233" cy="258" r="4.8"/><text x="233" y="258">1200</text></g>
<g id="n356"><circle class="cy" cx="240" cy="273" r="4.8"/><text x="240" y="273">567</text></g>
<g id="n357"><circle class="cy" cx="217" cy="275" r="4.8"/><text x="217" y="275">653</text></g>
<g id="n358"><circle class="cy" cx="230" cy="283" r="4.8"/><text x="230" y="283">1364</text></g>
<g id="n359"><circle class="cy" cx="217" cy="294" r="4.8"/><text x="217" y="294">655</text></g>
<g id="n360" class="big"><circle class="kp" cx="256" cy="221" r="7"/><text x="256" y="221">52</text></g>
<g id="n361" class="big"><circle class="kp" cx="275" cy="222" r="7"/><text x="275" y="222">56</text></g>
<g id="n362" class="big"><circle class="kp" cx="255" cy="238" r="7"/><text x="255" y="238">294</text></g>
<g id="n363" class="big"><circle class="kp" cx="276" cy="242" r="7"/><text x="276" y="242">57</text></g>
<g id="n364"><circle class="kp" cx="259" cy="254" r="4.8"/><text x="259" y="254">1462</text></g>
<g id="n365"><circle class="kp" cx="268" cy="268" r="4.8"/><text x="268" y="268">548</text></g>
<g id="n366"><circle class="kp" cx="283" cy="264" r="4.8"/><text x="283" y="264">91</text></g>
<g id="n367"><circle class="kp" cx="257" cy="282" r="4.8"/><text x="257" y="282">547</text></g>
<g id="n368"><circle class="kp" cx="277" cy="283" r="4.8"/><text x="277" y="283">613</text></g>
<g id="n369"><circle class="kp" cx="267" cy="295" r="4.8"/><text x="267" y="295">1546</text></g>
<g id="n370"><circle class="kp" cx="287" cy="294" r="4.8"/><text x="287" y="294">1590</text></g>
<g id="n371" class="big"><circle class="kp" cx="298" cy="273" r="7"/><text x="298" y="273">187</text></g>
<g id="n372" class="big"><circle class="sa" cx="376" cy="252" r="8.3"/><text x="376" y="252">1163</text></g>
<g id="n373"><circle class="sa" cx="405" cy="254" r="4.8"/><text x="405" y="254">1164</text></g>
<g id="n374"><circle class="sa" cx="395" cy="271" r="4.8"/><text x="395" y="271">1165</text></g>
<g id="n375"><circle class="sa" cx="405" cy="289" r="4.8"/><text x="405" y="289">1166</text></g>
<g id="n376"><circle class="li" cx="334" cy="277" r="4.8"/><text x="334" y="277">1417</text></g>
<g id="n377"><circle class="li" cx="357" cy="272" r="4.8"/><text x="357" y="272">1416</text></g>
<g id="n378"><circle class="li" cx="372" cy="288" r="4.8"/><text x="372" y="288">1415</text></g>
<g id="n379"><circle class="li" cx="329" cy="296" r="4.8"/><text x="329" y="296">1418</text></g>
<g id="n380"><circle class="li" cx="351" cy="297" r="4.8"/><text x="351" y="297">1419</text></g>
</g>
</svg>
